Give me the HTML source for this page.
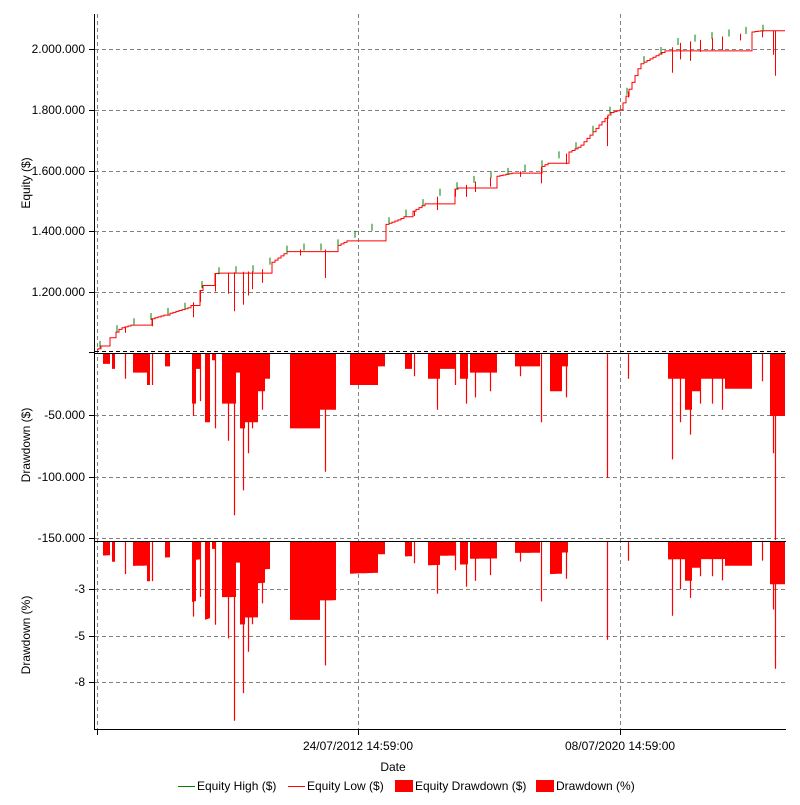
<!DOCTYPE html>
<html><head><meta charset="utf-8"><style>
body{margin:0;background:#fff;font-family:"Liberation Sans",sans-serif;}
svg text{font-family:"Liberation Sans",sans-serif;font-size:12px;fill:#000;}
</style></head><body>
<svg id="s" width="800" height="800" xmlns="http://www.w3.org/2000/svg">
<rect width="800" height="800" fill="#fff"/>
<g id="grid" stroke="#808080" stroke-dasharray="4,3" stroke-width="1">
<line x1="97.5" y1="14" x2="97.5" y2="729"/>
<line x1="358.5" y1="14" x2="358.5" y2="729"/>
<line x1="620.5" y1="14" x2="620.5" y2="729"/>
<line x1="95" y1="49.5" x2="785" y2="49.5"/>
<line x1="95" y1="110.5" x2="785" y2="110.5"/>
<line x1="95" y1="171.5" x2="785" y2="171.5"/>
<line x1="95" y1="231.5" x2="785" y2="231.5"/>
<line x1="95" y1="292.5" x2="785" y2="292.5"/>
<line x1="95" y1="415.5" x2="785" y2="415.5"/>
<line x1="95" y1="477.5" x2="785" y2="477.5"/>
<line x1="95" y1="538.5" x2="785" y2="538.5"/>
<line x1="95" y1="589.5" x2="785" y2="589.5"/>
<line x1="95" y1="636.5" x2="785" y2="636.5"/>
<line x1="95" y1="682.5" x2="785" y2="682.5"/>
<line x1="95" y1="351.5" x2="785" y2="351.5" stroke="#000"/>
</g>
<g id="data"></g>
<g stroke="#000" stroke-width="1">
<line x1="94.5" y1="14" x2="94.5" y2="729"/>
<line x1="94" y1="729.5" x2="786" y2="729.5"/>
<line x1="94" y1="353.5" x2="786" y2="353.5"/>
<line x1="94" y1="541.5" x2="786" y2="541.5"/>
<line x1="89" y1="49.5" x2="94" y2="49.5"/><line x1="89" y1="110.5" x2="94" y2="110.5"/>
<line x1="89" y1="171.5" x2="94" y2="171.5"/><line x1="89" y1="231.5" x2="94" y2="231.5"/>
<line x1="89" y1="292.5" x2="94" y2="292.5"/><line x1="89" y1="352.5" x2="94" y2="352.5"/>
<line x1="89" y1="415.5" x2="94" y2="415.5"/><line x1="89" y1="477.5" x2="94" y2="477.5"/>
<line x1="89" y1="538.5" x2="94" y2="538.5"/>
<line x1="89" y1="589.5" x2="94" y2="589.5"/><line x1="89" y1="636.5" x2="94" y2="636.5"/>
<line x1="89" y1="682.5" x2="94" y2="682.5"/>
<line x1="97.5" y1="729" x2="97.5" y2="735"/><line x1="358.5" y1="729" x2="358.5" y2="735"/>
<line x1="620.5" y1="729" x2="620.5" y2="735"/>
</g>
<g text-anchor="end">
<text x="85" y="53">2.000.000</text><text x="85" y="114">1.800.000</text>
<text x="85" y="175">1.600.000</text><text x="85" y="235">1.400.000</text>
<text x="85" y="296">1.200.000</text>
<text x="85" y="419">-50.000</text><text x="85" y="481">-100.000</text>
<text x="85" y="542">-150.000</text>
<text x="85" y="593">-3</text><text x="85" y="640">-5</text><text x="85" y="686">-8</text>
</g>
<g text-anchor="middle">
<text x="358" y="750">24/07/2012 14:59:00</text>
<text x="620" y="750">08/07/2020 14:59:00</text>
<text x="393" y="771">Date</text>
<text transform="translate(30,183) rotate(-90)">Equity ($)</text>
<text transform="translate(30,445) rotate(-90)">Drawdown ($)</text>
<text transform="translate(30,635) rotate(-90)">Drawdown (%)</text>
</g>
<line x1="178" y1="786.5" x2="195" y2="786.5" stroke="#008000"/>
<text x="197" y="790">Equity High ($)</text>
<line x1="288" y1="786.5" x2="305" y2="786.5" stroke="#f00"/>
<text x="307" y="790">Equity Low ($)</text>
<rect x="395" y="780" width="18" height="12" fill="#f00"/>
<text x="415" y="790">Equity Drawdown ($)</text>
<rect x="536" y="780" width="18" height="12" fill="#f00"/>
<text x="556" y="790">Drawdown (%)</text>
</svg>
<script>
var NS="http://www.w3.org/2000/svg",g=document.getElementById("data");
function el(n,a){var e=document.createElementNS(NS,n);for(var k in a)e.setAttribute(k,a[k]);g.appendChild(e);}
var blocks=[[103,110,8],[112,115,12],[133,147,15],[147,150,25],[165,170,10],[192,196,40],[196,200,12],[205,210,55],[212,215,5],[222,236,40],[236,240,15],[240,245,60],[245,258,55],[258,265,30],[265,270,20],[290,320,60],[320,336,45],[350,378,25],[378,385,10],[405,412,12],[428,440,20],[440,455,12],[460,468,20],[470,497,15],[515,540,10],[550,562,30],[562,568,10],[668,685,20],[685,692,45],[692,700,30],[700,725,20],[725,752,28],[770,785,50]];
var spikes=[[125,20],[152,25],[193,50],[215,60],[234,130],[243,110],[248,80],[325,95],[437,45],[475,35],[490,30],[541,55],[607,100],[628,20],[672,85],[690,65],[722,45],[773,80],[775,150],[200,38],[228,70],[252,60],[262,45],[300,20],[414,18],[455,25],[466,40],[520,18],[566,35],[680,55],[700,40],[712,40],[740,22],[762,22]];
var pts=[[97,1010000],[120,1080000],[150,1110000],[190,1150000],[210,1260000],[260,1270000],[290,1340000],[330,1340000],[360,1390000],[400,1440000],[440,1520000],[480,1570000],[540,1610000],[580,1680000],[610,1790000],[620,1800000],[640,1950000],[680,2020000],[760,2060000],[785,2060000]];
function eq(x){for(var i=0;i<pts.length-1;i++){if(x<=pts[i+1][0]){var t=(x-pts[i][0])/(pts[i+1][0]-pts[i][0]);return pts[i][1]+t*(pts[i+1][1]-pts[i][1]);}}return 2060000;}
function ey(v){return 49+(2000000-v)/200000*60.75;}
var dd=[];for(var x=95;x<=785;x++)dd[x]=0;
blocks.forEach(function(b){for(var x=b[0];x<b[1];x++)dd[x]=Math.max(dd[x],b[2]);});
// equity step path
var d="M97,"+ey(1010000).toFixed(1),last=ey(1010000);
for(var x=98;x<=785;x+=3){var y=ey(eq(x));if(dd[x]>0)y=last;d+="H"+x+"V"+y.toFixed(1);last=y;}
el("path",{d:d,fill:"none",stroke:"#f00","stroke-width":1});
// green highs
var gd="";for(var x=100;x<780;x+=17){var y=ey(eq(x));gd+="M"+x+","+(y-6).toFixed(1)+"V"+(y+1).toFixed(1);}
el("path",{d:gd,fill:"none",stroke:"#008000","stroke-width":1});
// equity spikes down
var sd="";spikes.forEach(function(s){var y=ey(eq(s[0]));sd+="M"+s[0]+".5,"+y.toFixed(1)+"v"+(s[1]*0.3).toFixed(1);});
el("path",{d:sd,fill:"none",stroke:"#f00","stroke-width":1});
// drawdown panels
function panel(y0,f){var p="M95,"+y0;for(var x=95;x<=785;x++){p+="H"+x+"V"+(y0+f(dd[x],x)).toFixed(1);}p+="H785V"+y0+"Z";el("path",{d:p,fill:"#f00"});
var q="";spikes.forEach(function(s){q+="M"+s[0]+".5,"+y0+"V"+(y0+f(s[1],s[0])).toFixed(1);});el("path",{d:q,stroke:"#f00","stroke-width":1.2,fill:"none"});}
panel(354,function(v){return v*1.24;});
panel(542,function(v,x){return Math.min(186,v*1000/eq(x)*100*17.4*1.0);});
</script>
</body></html>
